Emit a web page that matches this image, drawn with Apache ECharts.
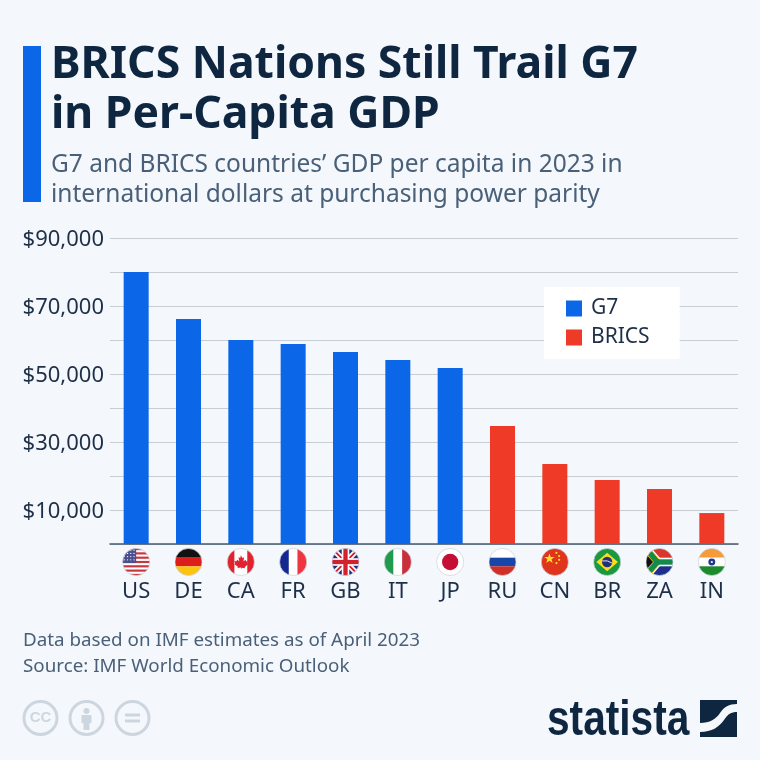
<!DOCTYPE html>
<html>
<head>
<meta charset="utf-8">
<script src="https://cdn.jsdelivr.net/npm/echarts@6/dist/echarts.min.js"></script>
<style>
  html, body { margin: 0; padding: 0; background: #f4f8fc; }
  #chart { width: 760px; height: 760px; }
</style>
</head>
<body>
<div id="chart"></div>
<script>
var countries = ["US", "DE", "CA", "FR", "GB", "IT", "JP", "RU", "CN", "BR", "ZA", "IN"];
var g7Values = [80000, 66200, 60000, 58800, 56500, 54100, 51800, null, null, null, null, null];
var bricsValues = [null, null, null, null, null, null, null, 34700, 23500, 18800, 16200, 9100];
var tickLabels = { 90000: "$90,000", 70000: "$70,000", 50000: "$50,000", 30000: "$30,000", 10000: "$10,000" };

var titleText = "BRICS Nations Still Trail G7\nin Per-Capita GDP";
var subtitleText = "G7 and BRICS countries\u2019 GDP per capita in 2023 in\ninternational dollars at purchasing power parity";
var sourceText = "Data based on IMF estimates as of April 2023\nSource: IMF World Economic Outlook";

var FONT = '"Noto Sans", "Open Sans", sans-serif';

// flags, 26x26, clipped to a circle
function flagSvg(body) {
  var s = '<svg xmlns="http://www.w3.org/2000/svg" width="104" height="104" viewBox="0 0 26 26">' +
    '<defs><clipPath id="c"><circle cx="13" cy="13" r="12.6"/></clipPath></defs>' +
    '<g clip-path="url(#c)">' + body + '</g>' +
    '<circle cx="13" cy="13" r="12.6" fill="none" stroke="#cfd3d8" stroke-width="0.7"/></svg>';
  return "data:image/svg+xml;charset=utf-8," + encodeURIComponent(s);
}
function r(x, y, w, h, c) {
  return '<rect x="' + x + '" y="' + y + '" width="' + w + '" height="' + h + '" fill="' + c + '"/>';
}
function usStripes() {
  var out = r(0, 0, 26, 26, "#fff");
  for (var i = 0; i < 7; i++) out += r(0, i * 4, 26, 2, "#c8353f");
  out += r(0, 0, 13, 14, "#4a4f8f");
  for (var y = 2; y < 14; y += 3) {
    for (var x = 2; x < 13; x += 3) out += '<circle cx="' + x + '" cy="' + y + '" r="0.6" fill="#fff"/>';
  }
  return out;
}
var flags = {
  US: usStripes(),
  DE: r(0, 0, 26, 9, "#111") + r(0, 9, 26, 8, "#dd1c1c") + r(0, 17, 26, 9, "#fcc40f"),
  CA: r(0, 0, 26, 26, "#fff") + r(0, 0, 7, 26, "#e0232e") + r(19, 0, 7, 26, "#e0232e") +
    '<path d="M13 6l1.6 3 1.8-.8-.8 4.2 2.2-1.6.8 1.6 2-.2-.8 2.4.8.8-3.6 2.8.4 1.2-3.6-.4V20h-.6v-1.2l-3.6.4.4-1.2-3.6-2.8.8-.8-.8-2.4 2 .2.8-1.6 2.2 1.6-.8-4.2 1.8.8z" fill="#e0232e" transform="translate(1.3 1.3) scale(.9)"/>',
  FR: r(0, 0, 9, 26, "#14288f") + r(9, 0, 8, 26, "#fff") + r(17, 0, 9, 26, "#ee3540"),
  GB: r(0, 0, 26, 26, "#1f2f7a") +
    '<path d="M0 0L26 26M26 0L0 26" stroke="#fff" stroke-width="5"/>' +
    '<path d="M0 0L26 26M26 0L0 26" stroke="#d3202f" stroke-width="1.8"/>' +
    r(9.5, 0, 7, 26, "#fff") + r(0, 9.5, 26, 7, "#fff") + r(11, 0, 4, 26, "#d3202f") + r(0, 11, 26, 4, "#d3202f"),
  IT: r(0, 0, 9, 26, "#1f9a4f") + r(9, 0, 8, 26, "#fff") + r(17, 0, 9, 26, "#c9303c"),
  JP: r(0, 0, 26, 26, "#fff") + '<circle cx="13" cy="13" r="7.6" fill="#c40e35"/>',
  RU: r(0, 0, 26, 9, "#fff") + r(0, 9, 26, 8, "#1745a8") + r(0, 17, 26, 9, "#cf2f27"),
  CN: r(0, 0, 26, 26, "#e0341c") +
    '<path d="M8 5l1.2 3.4h3.6l-2.9 2.1 1.1 3.4L8 11.8l-3 2.1 1.1-3.4-2.9-2.1h3.6z" fill="#fde02a"/>' +
    '<circle cx="14.5" cy="4.5" r="1" fill="#fde02a"/><circle cx="17" cy="7.5" r="1" fill="#fde02a"/>' +
    '<circle cx="17" cy="11" r="1" fill="#fde02a"/><circle cx="14.5" cy="14" r="1" fill="#fde02a"/>',
  BR: r(0, 0, 26, 26, "#1a9940") + '<path d="M13 4.5L23 13 13 21.5 3 13z" fill="#fbdc1f"/>' +
    '<circle cx="13" cy="13" r="4.8" fill="#21317e"/><path d="M8.4 12q5-1 9.2 2" stroke="#fff" stroke-width="0.8" fill="none"/>',
  ZA: r(0, 0, 26, 13, "#d8352c") + r(0, 13, 26, 13, "#1c2f8c") +
    '<path d="M0 0L11 13 0 26" fill="none" stroke="#fff" stroke-width="8.5"/>' +
    r(11, 9, 15, 8, "#fff") +
    '<path d="M0 0L11 13 0 26" fill="none" stroke="#fcc40f" stroke-width="6.5"/>' +
    '<path d="M0 0L11 13 0 26" fill="none" stroke="#148a4b" stroke-width="5"/>' + r(10, 10.5, 16, 5, "#148a4b") +
    '<path d="M0 5L7 13 0 21z" fill="#111"/>',
  IN: r(0, 0, 26, 9, "#f79a3a") + r(0, 9, 26, 8, "#fff") + r(0, 17, 26, 9, "#1d8a2e") +
    '<circle cx="13" cy="13" r="3.2" fill="#24358a"/><circle cx="13" cy="13" r="1" fill="#fff"/>'
};

var richLabels = {
  code: { fontFamily: FONT, fontSize: 22, color: "#1e2f48", height: 32, lineHeight: 32, align: "center" }
};
countries.forEach(function (c) {
  richLabels["f" + c] = {
    width: 28, height: 28, lineHeight: 28, align: "center",
    backgroundColor: { image: flagSvg(flags[c]) }
  };
});

// statista mark
var logoMark = "data:image/svg+xml;charset=utf-8," + encodeURIComponent(
  '<svg xmlns="http://www.w3.org/2000/svg" width="148" height="148" viewBox="0 0 37 37">' +
  '<path d="M0 0H37V4C29 4 24 7 20 13C16 19 10 23 0 23Z" fill="#0f2640"/>' +
  '<path d="M37 12V37H0V32C12 32 19 27 24 20C28 14 31 12 37 12Z" fill="#0f2640"/></svg>');

var ICON = "#cdd6de";

var chart = echarts.init(document.getElementById("chart"), null, { renderer: "canvas" });

chart.setOption({
  backgroundColor: "#f4f8fc",
  animation: false,
  title: [
    {
      text: titleText, left: 46, top: 35,
      textStyle: { fontFamily: FONT, fontSize: 44.5, fontWeight: 700, color: "#0f2640", lineHeight: 50 }
    },
    {
      text: subtitleText, left: 46, top: 145,
      textStyle: { fontFamily: FONT, fontSize: 24.5, fontWeight: 400, color: "#4a6078", lineHeight: 30 }
    },
    {
      text: sourceText, left: 18, top: 622,
      textStyle: { fontFamily: FONT, fontSize: 18.8, fontWeight: 400, color: "#4a6078", lineHeight: 26.5 }
    }
  ],
  legend: {
    left: 544, top: 287, orient: "vertical",
    padding: [11, 30, 11, 22],
    backgroundColor: "#ffffff",
    itemWidth: 16, itemHeight: 16, itemGap: 8,
    icon: "rect",
    textStyle: { fontFamily: FONT, fontSize: 21, color: "#1e2f48", padding: [0, 0, 0, 4] },
    data: ["G7", "BRICS"]
  },
  grid: { left: 110, right: 22, top: 238, height: 306, containLabel: false },
  xAxis: {
    type: "category",
    data: countries,
    axisTick: { show: false },
    axisLine: { lineStyle: { color: "#46586f", width: 1.5 } },
    axisLabel: {
      interval: 0, margin: 4,
      formatter: function (v) { return "{f" + v + "|}\n{code|" + v + "}"; },
      rich: richLabels
    }
  },
  yAxis: {
    type: "value",
    min: 0, max: 90000, interval: 10000,
    axisLine: { show: false },
    axisTick: { show: false },
    splitLine: { lineStyle: { color: "#c6cdd5", width: 1 } },
    axisLabel: {
      margin: 6,
      formatter: function (v) { return tickLabels[v] ? "{t|" + tickLabels[v] + "}" : ""; },
      rich: { t: { fontFamily: FONT, fontSize: 22, color: "#1e2f48", padding: [4, 0, 0, 0] } }
    }
  },
  series: [
    { name: "G7", type: "bar", stack: "gdp", barWidth: 25, data: g7Values, itemStyle: { color: "#0b66e8" } },
    { name: "BRICS", type: "bar", stack: "gdp", barWidth: 25, data: bricsValues, itemStyle: { color: "#ee3a26" } }
  ],
  graphic: [
    // accent bar next to the title
    { type: "rect", shape: { x: 23, y: 46, width: 18, height: 156 }, style: { fill: "#0b66e8" } },
    // cc icons
    { type: "circle", shape: { cx: 40.5, cy: 718, r: 16.5 }, style: { fill: "none", stroke: ICON, lineWidth: 3 } },
    { type: "text", style: { x: 40.5, y: 718, text: "CC", align: "center", verticalAlign: "middle", fill: ICON,
      font: '700 15px "Liberation Sans", sans-serif' } },
    { type: "circle", shape: { cx: 86.5, cy: 718, r: 16.5 }, style: { fill: "none", stroke: ICON, lineWidth: 3 } },
    { type: "circle", shape: { cx: 86.5, cy: 711, r: 3 }, style: { fill: ICON } },
    { type: "rect", shape: { x: 81.5, y: 715, width: 10, height: 8 }, style: { fill: ICON } },
    { type: "rect", shape: { x: 83.5, y: 723, width: 6, height: 7 }, style: { fill: ICON } },
    { type: "circle", shape: { cx: 132.5, cy: 718, r: 16.5 }, style: { fill: "none", stroke: ICON, lineWidth: 3 } },
    { type: "rect", shape: { x: 125, y: 713.5, width: 15, height: 3 }, style: { fill: ICON } },
    { type: "rect", shape: { x: 125, y: 719.5, width: 15, height: 3 }, style: { fill: ICON } },
    // statista logo
    { type: "text", x: 547, y: 746.5, scaleX: 0.813, style: { x: 0, y: 0, text: "statista", align: "left", verticalAlign: "bottom",
      fill: "#0f2640", font: '700 50px "Liberation Sans", sans-serif' } },
    { type: "image", style: { image: logoMark, x: 700, y: 700, width: 37, height: 37 } }
  ]
});
</script>
</body>
</html>
